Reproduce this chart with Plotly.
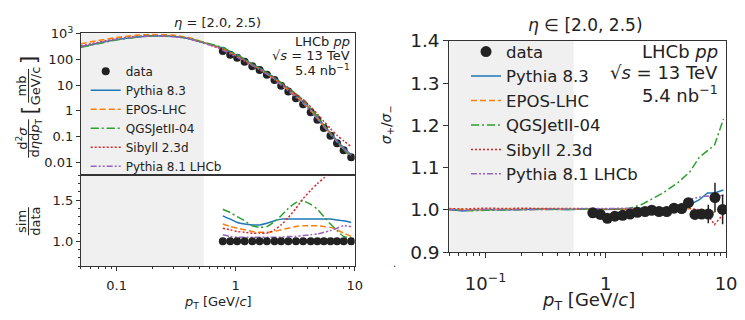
import numpy as np
import plotly.graph_objects as go

W, H = 745, 320

# ---------------- data ----------------
pt_data = [0.78, 0.90, 1.03, 1.19, 1.38, 1.59, 1.83, 2.12, 2.41, 2.77, 3.21,
           3.69, 4.27, 4.86, 5.51, 6.26, 7.11, 8.08, 9.35]
xsec_data = [210, 150, 115, 80, 54, 38, 25, 15.6, 9.4, 5.7, 3.1, 1.8, 0.89,
             0.45, 0.22, 0.11, 0.056, 0.030, 0.016]
ratio_err = [0.02] * 19

# model spectra at low pT (below data range)
pt_low = [0.05, 0.07, 0.1, 0.15, 0.2, 0.3, 0.4, 0.5, 0.6, 0.7]
low_pythia83 = [300, 420, 580, 730, 790, 760, 640, 480, 380, 310]
low_epos = [400, 530, 700, 860, 920, 860, 690, 510, 390, 300]
low_qgsjet = [290, 400, 560, 720, 790, 770, 650, 500, 400, 330]
low_sibyll = [330, 450, 610, 760, 810, 760, 630, 470, 360, 290]
low_pythia81 = [310, 430, 590, 740, 800, 760, 630, 470, 360, 280]

# sim/data ratios at data pT points
rat_pythia83 = [1.31, 1.27, 1.23, 1.21, 1.20, 1.20, 1.22, 1.25, 1.27, 1.27, 1.27,
                1.27, 1.27, 1.27, 1.27, 1.27, 1.26, 1.25, 1.23]
rat_epos = [1.21, 1.18, 1.16, 1.14, 1.12, 1.11, 1.11, 1.12, 1.14, 1.16, 1.18,
            1.19, 1.19, 1.19, 1.18, 1.17, 1.14, 1.10, 1.06]
rat_qgsjet = [1.39, 1.35, 1.30, 1.25, 1.19, 1.17, 1.18, 1.24, 1.31, 1.40, 1.47,
              1.49, 1.45, 1.39, 1.30, 1.21, 1.13, 1.06, 1.04]
rat_sibyll = [1.16, 1.14, 1.12, 1.11, 1.10, 1.10, 1.10, 1.14, 1.20, 1.29, 1.40,
              1.52, 1.62, 1.70, 1.77, 1.86, 2.02, 2.30, 2.60]
rat_pythia81 = [1.08, 1.06, 1.05, 1.05, 1.05, 1.05, 1.05, 1.05, 1.05, 1.06, 1.06,
                1.07, 1.08, 1.09, 1.11, 1.13, 1.16, 1.19, 1.18]

# sigma+/sigma- (right panel)
asym_data = [0.993, 0.989, 0.980, 0.985, 0.987, 0.990, 0.994, 0.996, 0.999, 0.996,
             0.996, 1.004, 1.003, 1.017, 0.989, 0.990, 0.990, 1.029, 1.001]
asym_err = [0.003, 0.003, 0.003, 0.003, 0.003, 0.003, 0.003, 0.003, 0.003, 0.003,
            0.003, 0.003, 0.003, 0.005, 0.008, 0.010, 0.022, 0.035, 0.035]
pt_model_r = [0.05, 0.065, 0.08, 0.1, 0.15, 0.2, 0.3, 0.5, 0.7, 1.0, 1.5, 2.0,
              3.0, 4.0, 5.0, 6.0, 7.0, 8.0, 9.5]
asym_pythia83 = [1.001, 0.997, 1.000, 1.001, 1.000, 1.001, 1.002, 1.001, 1.002, 1.001,
                 1.002, 1.003, 1.004, 1.006, 1.012, 1.024, 1.040, 1.040, 1.047]
asym_epos = [1.002, 1.001, 1.000, 1.001, 1.001, 1.002, 1.001, 1.002, 1.001, 1.001,
             1.002, 1.002, 1.003, 1.004, 1.002, 0.990, 0.990, 0.995, 1.010]
asym_qgsjet = [1.000, 0.999, 0.998, 0.999, 1.000, 1.000, 1.001, 1.001, 1.001, 1.001,
               1.002, 1.013, 1.040, 1.065, 1.090, 1.125, 1.140, 1.153, 1.215]
asym_sibyll = [1.003, 1.002, 1.003, 1.004, 1.003, 1.004, 1.003, 1.004, 1.003, 1.002,
               1.002, 1.003, 1.004, 1.005, 1.003, 1.000, 0.990, 0.965, 0.990]
asym_pythia81 = [1.001, 0.998, 1.000, 1.001, 1.001, 1.000, 1.001, 1.002, 1.002, 1.003,
                 1.003, 1.004, 1.005, 1.010, 1.025, 1.030, 1.033, 1.030, 1.035]

model_names = ["Pythia 8.3", "EPOS-LHC", "QGSJetII-04", "Sibyll 2.3d", "Pythia 8.1 LHCb"]
model_colors = ["#1f77b4", "#ff7f0e", "#2ca02c", "#d62728", "#9467bd"]
model_dash = ["solid", "6px,3px", "8px,3px,2px,3px", "2px,2px", "6px,2px,2px,2px,2px,2px"]
low_specs = [low_pythia83, low_epos, low_qgsjet, low_sibyll, low_pythia81]
ratios = [rat_pythia83, rat_epos, rat_qgsjet, rat_sibyll, rat_pythia81]
asyms = [asym_pythia83, asym_epos, asym_qgsjet, asym_sibyll, asym_pythia81]

shade_max = 0.54
pt_min, pt_max = 0.05, 10.0
DATA_COLOR = "#222222"
FONT = "DejaVu Sans"

def px(x):
    return x / W

def py(y):
    return 1 - y / H

fig = go.Figure()

# ---------------- top-left spectrum ----------------
fig.add_trace(go.Scatter(x=pt_data, y=xsec_data, mode="markers", name="data",
                         marker=dict(color=DATA_COLOR, size=8), xaxis="x", yaxis="y",
                         legend="legend", legendrank=1))
for i, (name, col, dash, low, rat) in enumerate(zip(model_names, model_colors, model_dash, low_specs, ratios)):
    xs = list(pt_low) + list(pt_data)
    ys = list(low) + list(np.array(rat) * np.array(xsec_data))
    fig.add_trace(go.Scatter(x=xs, y=ys, mode="lines", name=name,
                             line=dict(color=col, dash=dash, width=1.5, shape="spline", smoothing=0.6),
                             xaxis="x", yaxis="y", legend="legend", legendrank=2 + i))

# ---------------- bottom-left ratio ----------------
for name, col, dash, rat in zip(model_names, model_colors, model_dash, ratios):
    fig.add_trace(go.Scatter(x=pt_data, y=rat, mode="lines", name=name, showlegend=False,
                             line=dict(color=col, dash=dash, width=1.5, shape="spline", smoothing=0.6),
                             xaxis="x2", yaxis="y2"))
fig.add_trace(go.Scatter(x=pt_data, y=[1.0] * len(pt_data), mode="markers", showlegend=False,
                         marker=dict(color=DATA_COLOR, size=8),
                         error_y=dict(type="data", array=ratio_err, color=DATA_COLOR, thickness=1.5, width=0),
                         xaxis="x2", yaxis="y2"))

# ---------------- right asymmetry ----------------
for i, (name, col, dash, a) in enumerate(zip(model_names, model_colors, model_dash, asyms)):
    fig.add_trace(go.Scatter(x=pt_model_r, y=a, mode="lines", name=name,
                             line=dict(color=col, dash=dash, width=1.5),
                             xaxis="x3", yaxis="y3", legend="legend2", legendrank=2 + i))
fig.add_trace(go.Scatter(x=pt_data, y=asym_data, mode="markers", name="data",
                         marker=dict(color=DATA_COLOR, size=11),
                         error_y=dict(type="data", array=asym_err, color=DATA_COLOR, thickness=1.5, width=0),
                         xaxis="x3", yaxis="y3", legend="legend2", legendrank=1))

# ---------------- axes ----------------
LX = [px(82), px(360)]
RX = [px(456), px(737)]
line_col = "#333333"
minor_vals = [v * 10 ** e for e in (-2, -1, 0) for v in range(2, 10)]
common = dict(showline=True, linecolor=line_col, linewidth=1, mirror=True, showgrid=False,
              zeroline=False, ticks="outside", tickcolor=line_col)

fig.update_layout(
    xaxis=dict(domain=LX, type="log", range=[np.log10(pt_min), np.log10(pt_max)], anchor="y",
               showticklabels=False, **{**common, "ticks": ""}),
    yaxis=dict(domain=[py(176), py(24)], type="log", range=[-2.5, 3], anchor="x",
               tickvals=[0.01, 0.1, 1, 10, 100, 1000],
               ticktext=["0.01", "0.1", "1", "10", "100", "10<sup>3</sup>"],
               ticklen=4, tickfont=dict(size=13, family=FONT, color="#222"), **common),
    xaxis2=dict(domain=LX, type="log", range=[np.log10(pt_min), np.log10(pt_max)], anchor="y2",
                tickvals=[0.1, 1, 10], ticktext=["0.1", "1", "10"], ticklen=4,
                ticklabelstandoff=3,
                minor=dict(tickvals=minor_vals, ticks="outside", ticklen=2, tickcolor=line_col),
                tickfont=dict(size=13, family=FONT, color="#222"), **common),
    yaxis2=dict(domain=[py(273), py(176)], range=[0.7, 1.8], anchor="x2",
                tickvals=[1.0, 1.5], ticktext=["1.0", "1.5"], ticklen=4,
                minor=dict(dtick=0.1, ticks="outside", ticklen=2, tickcolor=line_col),
                tickfont=dict(size=13, family=FONT, color="#222"), **common),
    xaxis3=dict(domain=RX, type="log", range=[np.log10(pt_min), np.log10(pt_max)], anchor="y3",
                tickvals=[0.1, 1, 10], ticktext=["10<sup>−1</sup>", "1", "10"], ticklen=5,
                ticklabelstandoff=10,
                minor=dict(tickvals=minor_vals, ticks="outside", ticklen=3, tickcolor=line_col),
                tickfont=dict(size=18, family=FONT, color="#222"), **common),
    yaxis3=dict(domain=[py(258), py(32)], range=[0.9, 1.4], anchor="x3",
                tickvals=[0.9, 1.0, 1.1, 1.2, 1.3, 1.4], ticktext=["0.9", "1.0", "1.1", "1.2", "1.3", "1.4"],
                ticklen=5, tickfont=dict(size=18.5, family=FONT, color="#222"), **common),
)

# shaded regions
for xr, yr in (("x", "y"), ("x2", "y2"), ("x3", "y3")):
    fig.add_shape(type="rect", xref=xr, yref=yr + " domain", x0=pt_min, x1=shade_max, y0=0, y1=1,
                  fillcolor="rgb(240,240,240)", line=dict(width=0), layer="below")

# ---------------- legends ----------------
fig.update_layout(
    legend=dict(x=px(87), y=py(49), xanchor="left", yanchor="top", bgcolor="rgba(0,0,0,0)",
                font=dict(size=12, family=FONT, color="#222"), itemwidth=30, tracegroupgap=0),
    legend2=dict(x=px(473), y=py(25), xanchor="left", yanchor="top", bgcolor="rgba(0,0,0,0)",
                 font=dict(size=16.5, family=FONT, color="#222"), itemwidth=30, tracegroupgap=0),
)

# ---------------- annotations ----------------
ann = []
def text(x, y, s, size, xanchor="center", angle=0, yanchor="middle"):
    ann.append(dict(x=px(x), y=py(y), xref="paper", yref="paper", text=s, showarrow=False,
                    xanchor=xanchor, yanchor=yanchor, textangle=angle,
                    font=dict(size=size, family=FONT, color="#222")))

text(221, 12, "<i>η</i> = [2.0, 2.5)", 13)
text(594, 15, "<i>η</i> ∈ [2.0, 2.5)", 17)
for yy, s in ((33, "LHCb <i>pp</i>"), (48, "√<i>s</i> = 13 TeV"), (63, "5.4 nb<sup>−1</sup>")):
    text(357, yy, s, 13, xanchor="right")
for yy, s in ((43, "LHCb <i>pp</i>"), (66, "√<i>s</i> = 13 TeV"), (89, "5.4 nb<sup>−1</sup>")):
    text(731, yy, s, 18, xanchor="right")
text(221, 312, "<i>p</i><sub>T</sub> [GeV/<i>c</i>]", 13)
text(597, 310, "<i>p</i><sub>T</sub> [GeV/<i>c</i>]", 18)
text(393, 122, "<i>σ</i><sub>+</sub>/<i>σ</i><sub>−</sub>", 14, angle=-90)
text(400, 270, ".", 10)

# top-left y label as fraction
text(22, 136, "d<sup>2</sup><i>σ</i>", 13, angle=-90)
text(36, 136, "d<i>η</i>d<i>p</i><sub>T</sub>", 13, angle=-90)
text(22, 80, "mb", 13, angle=-90)
text(36, 80, "GeV/c", 13, angle=-90)
text(29, 106, "[", 22, angle=-90)
text(29, 52, "]", 22, angle=-90)
# bottom-left y label fraction
text(22, 225, "sim", 13, angle=-90)
text(36, 225, "data", 13, angle=-90)

shapes_lines = [((29, 116), (29, 157)), ((29, 62), (29, 98)), ((29, 210), (29, 240))]
for (x0, y0), (x1, y1) in shapes_lines:
    fig.add_shape(type="line", xref="paper", yref="paper", x0=px(x0), y0=py(y0), x1=px(x1), y1=py(y1),
                  line=dict(color="#222", width=1))

fig.update_layout(annotations=ann, width=W, height=H, margin=dict(l=0, r=0, t=0, b=0),
                  paper_bgcolor="white", plot_bgcolor="white", showlegend=True,
                  font=dict(family=FONT))

fig.write_html("out.html")
